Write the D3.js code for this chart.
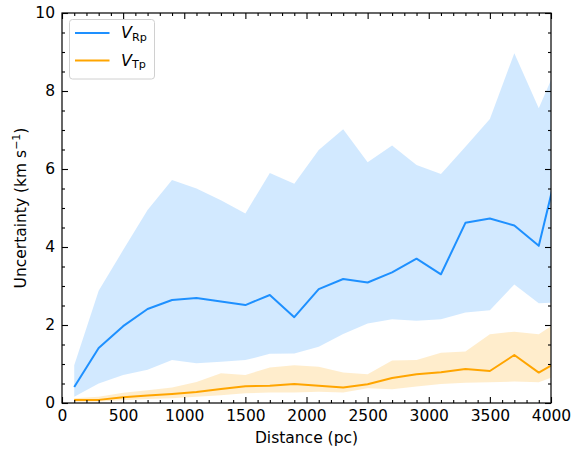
<!DOCTYPE html>
<html>
<head>
<meta charset="utf-8">
<script src="https://cdn.jsdelivr.net/npm/d3@7"></script>
<style>
  html, body { margin: 0; padding: 0; background: #fff; }
  svg { display: block; font-family: "DejaVu Sans", sans-serif; }
</style>
</head>
<body>
<svg id="chart" width="573" height="449"></svg>
<script>
// Distance bins (pc)
const distance = [100, 300, 500, 700, 900, 1100, 1300, 1500, 1700, 1900, 2100,
                  2300, 2500, 2700, 2900, 3100, 3300, 3500, 3700, 3900, 4100];

// Radial velocity uncertainty: median and spread (km/s)
const vRpMedian = [0.41, 1.41, 1.97, 2.41, 2.64, 2.69, 2.60, 2.51, 2.77, 2.20, 2.92,
                   3.18, 3.09, 3.35, 3.70, 3.30, 4.62, 4.73, 4.55, 4.03, 6.63];
const vRpLower  = [0.16, 0.50, 0.72, 0.85, 1.10, 1.02, 1.06, 1.10, 1.26, 1.27, 1.44,
                   1.77, 2.04, 2.15, 2.11, 2.15, 2.32, 2.38, 3.04, 2.56, 2.58];
const vRpUpper  = [0.97, 2.88, 3.92, 4.95, 5.72, 5.50, 5.20, 4.86, 5.90, 5.62, 6.49,
                   7.02, 6.17, 6.60, 6.10, 5.87, 6.57, 7.28, 8.97, 7.56, 9.00];

// Tangential velocity uncertainty: median and spread (km/s)
const vTpMedian = [0.08, 0.08, 0.15, 0.19, 0.23, 0.28, 0.36, 0.43, 0.44, 0.49, 0.44,
                   0.40, 0.48, 0.64, 0.74, 0.79, 0.87, 0.82, 1.23, 0.78, 1.14];
const vTpLower  = [0.03, 0.04, 0.07, 0.10, 0.12, 0.16, 0.20, 0.25, 0.27, 0.27, 0.29,
                   0.27, 0.38, 0.35, 0.42, 0.49, 0.52, 0.53, 0.55, 0.53, 0.77];
const vTpUpper  = [0.12, 0.16, 0.26, 0.33, 0.40, 0.54, 0.76, 0.72, 0.91, 0.97, 0.93,
                   0.78, 0.74, 1.09, 1.10, 1.29, 1.32, 1.76, 1.83, 1.76, 2.18];

const xTicks = [0, 500, 1000, 1500, 2000, 2500, 3000, 3500, 4000];
const yTicks = [0, 2, 4, 6, 8, 10];

const blue = "#1e90ff";
const orange = "#ffa500";
const fontSize = 15.5;

const svg = d3.select("#chart");
const plotLeft = 62, plotRight = 551, plotTop = 13, plotBottom = 403;

const x = d3.scaleLinear().domain([0, 4000]).range([plotLeft, plotRight]);
const y = d3.scaleLinear().domain([0, 10]).range([plotBottom, plotTop]);

svg.append("defs").append("clipPath").attr("id", "plotClip")
  .append("rect").attr("x", plotLeft).attr("y", plotTop)
  .attr("width", plotRight - plotLeft).attr("height", plotBottom - plotTop);

const plot = svg.append("g").attr("clip-path", "url(#plotClip)");

function series(median, lower, upper) {
  return distance.map((d, i) => ({ d, m: median[i], lo: lower[i], hi: upper[i] }));
}
const rp = series(vRpMedian, vRpLower, vRpUpper);
const tp = series(vTpMedian, vTpLower, vTpUpper);

const area = d3.area().x(p => x(p.d)).y0(p => y(p.lo)).y1(p => y(p.hi));
const line = d3.line().x(p => x(p.d)).y(p => y(p.m));

plot.append("path").datum(rp).attr("d", area).attr("fill", blue).attr("fill-opacity", 0.2);
plot.append("path").datum(tp).attr("d", area).attr("fill", orange).attr("fill-opacity", 0.2);
plot.append("path").datum(rp).attr("d", line).attr("fill", "none")
  .attr("stroke", blue).attr("stroke-width", 2).attr("stroke-linejoin", "round");
plot.append("path").datum(tp).attr("d", line).attr("fill", "none")
  .attr("stroke", orange).attr("stroke-width", 2).attr("stroke-linejoin", "round");

// Axes with inward ticks on all four sides
const xMinor = d3.range(0, 4001, 100).filter(v => v % 500 !== 0);
const yMinor = d3.range(0, 10.01, 0.5).filter(v => Math.abs(v % 2) > 1e-9);

function addAxis(axisFn, scale, transform, ticks, size, labels) {
  const a = axisFn(scale).tickValues(ticks).tickSizeInner(-size).tickSizeOuter(0)
    .tickPadding(7).tickFormat(labels ? d3.format("d") : "");
  const g = svg.append("g").attr("transform", transform).call(a);
  g.select(".domain").remove();
  g.selectAll("line").attr("stroke", "#000").attr("stroke-width", 1.1);
  g.selectAll("text").attr("font-size", fontSize).attr("fill", "#000")
    .attr("font-family", "DejaVu Sans, sans-serif");
  return g;
}

addAxis(d3.axisBottom, x, `translate(0,${plotBottom})`, xTicks, 6, true);
addAxis(d3.axisBottom, x, `translate(0,${plotBottom})`, xMinor, 3, false);
addAxis(d3.axisTop, x, `translate(0,${plotTop})`, xTicks, 6, false);
addAxis(d3.axisTop, x, `translate(0,${plotTop})`, xMinor, 3, false);
addAxis(d3.axisLeft, y, `translate(${plotLeft},0)`, yTicks, 6, true);
addAxis(d3.axisLeft, y, `translate(${plotLeft},0)`, yMinor, 3, false);
addAxis(d3.axisRight, y, `translate(${plotRight},0)`, yTicks, 6, false);
addAxis(d3.axisRight, y, `translate(${plotRight},0)`, yMinor, 3, false);

// Frame
svg.append("rect").attr("x", plotLeft).attr("y", plotTop)
  .attr("width", plotRight - plotLeft).attr("height", plotBottom - plotTop)
  .attr("fill", "none").attr("stroke", "#000").attr("stroke-width", 1.2);

// Axis titles
svg.append("text").attr("x", (plotLeft + plotRight) / 2).attr("y", 443)
  .attr("text-anchor", "middle").attr("font-size", fontSize).text("Distance (pc)");

const yl = svg.append("text")
  .attr("transform", `translate(25.5,${(plotTop + plotBottom) / 2}) rotate(-90)`)
  .attr("text-anchor", "middle").attr("font-size", fontSize);
yl.append("tspan").text("Uncertainty (km s");
yl.append("tspan").attr("dy", -6).attr("font-size", 11).text("\u22121");
yl.append("tspan").attr("dy", 6).text(")");

// Legend
const legend = svg.append("g");
legend.append("rect").attr("x", 69.5).attr("y", 19.5).attr("width", 85).attr("height", 59.5)
  .attr("rx", 3).attr("fill", "#fff").attr("fill-opacity", 0.8)
  .attr("stroke", "#d0d0d0").attr("stroke-width", 1);

const legendItems = [
  { color: blue, sub: "Rp", cy: 33 },
  { color: orange, sub: "Tp", cy: 60.4 }
];
legendItems.forEach(it => {
  legend.append("line").attr("x1", 75).attr("x2", 109.5).attr("y1", it.cy).attr("y2", it.cy)
    .attr("stroke", it.color).attr("stroke-width", 2);
  const t = legend.append("text").attr("x", 121).attr("y", it.cy + 5.3);
  t.append("tspan").attr("font-size", 16).attr("font-style", "italic").text("V");
  t.append("tspan").attr("font-size", 11.2).attr("dy", 2.2).text(it.sub);
});
</script>
</body>
</html>
